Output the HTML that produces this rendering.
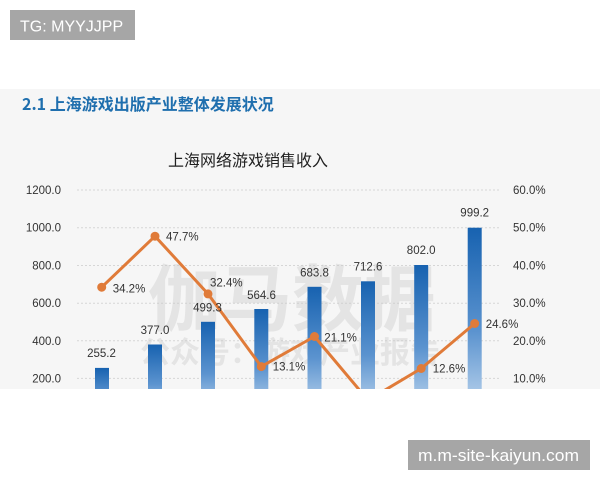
<!DOCTYPE html>
<html><head><meta charset="utf-8">
<style>
html,body{margin:0;padding:0;background:#fff;}
svg{display:block;}
text{font-family:"Liberation Sans","Noto Sans CJK SC",sans-serif;}
.cjk{font-family:"Noto Sans CJK SC","WenQuanYi Zen Hei",sans-serif;}
.ax{font-size:11.5px;fill:#333;}
</style></head>
<body>
<svg width="600" height="480" viewBox="0 0 600 480" xmlns="http://www.w3.org/2000/svg">
<defs>
<linearGradient id="bg" x1="0" y1="0" x2="0" y2="1">
<stop offset="0" stop-color="#1762b0"/>
<stop offset="0.55" stop-color="#5b93cf"/>
<stop offset="1" stop-color="#c6dbf0"/>
</linearGradient>
<clipPath id="cl"><rect x="0" y="89" width="600" height="300"/></clipPath>
</defs>
<rect x="0" y="0" width="600" height="480" fill="#fff"/>
<rect x="0" y="89" width="600" height="300" fill="#f6f6f6"/>

<text x="22" y="110" class="cjk" font-size="16" font-weight="bold" fill="#1f6fae">2.1  上海游戏出版产业整体发展状况</text>
<text x="248" y="166" class="cjk" font-size="16" fill="#222" text-anchor="middle">上海网络游戏销售收入</text>

<g clip-path="url(#cl)">
<g stroke="#d6d6d6" stroke-width="1" stroke-dasharray="2,2">
<line x1="77" y1="190" x2="500" y2="190"/>
<line x1="77" y1="227.7" x2="500" y2="227.7"/>
<line x1="77" y1="265.5" x2="500" y2="265.5"/>
<line x1="77" y1="303.2" x2="500" y2="303.2"/>
<line x1="77" y1="340.8" x2="500" y2="340.8"/>
<line x1="77" y1="378.4" x2="500" y2="378.4"/>
</g>
<text x="148" y="325" class="cjk" font-size="72" font-weight="bold" fill="#c8c8c8" fill-opacity="0.38">伽马数据</text>
<text x="140" y="363" class="cjk" font-size="30" font-weight="bold" fill="#c8c8c8" fill-opacity="0.38">公众号：游戏产业报告</text>
<g fill="url(#bg)">
<rect x="95" y="367.9" width="14" height="48.1"/>
<rect x="148" y="344.5" width="14" height="71.5"/>
<rect x="201" y="321.8" width="14" height="94.2"/>
<rect x="254.3" y="309" width="14" height="107"/>
<rect x="307.5" y="286.8" width="14" height="129.2"/>
<rect x="361" y="281.3" width="14" height="134.7"/>
<rect x="414.2" y="265" width="14" height="151"/>
<rect x="467.7" y="227.7" width="14" height="188.3"/>
</g>
<polyline fill="none" stroke="#e07b39" stroke-width="3" stroke-linejoin="round" points="101.7,287.2 155,236.2 208,293.9 261.3,366.6 314.5,336.5 368,400.2 421.2,368.5 474.7,323.5"/>
<g fill="#e07b39">
<circle cx="101.7" cy="287.2" r="4.5"/>
<circle cx="155" cy="236.2" r="4.5"/>
<circle cx="208" cy="293.9" r="4.5"/>
<circle cx="261.3" cy="366.6" r="4.5"/>
<circle cx="314.5" cy="336.5" r="4.5"/>
<circle cx="368" cy="400.2" r="4.5"/>
<circle cx="421.2" cy="368.5" r="4.5"/>
<circle cx="474.7" cy="323.5" r="4.5"/>
</g>
<g class="ax" text-anchor="middle">
<text x="101.5" y="357">255.2</text>
<text x="155" y="334">377.0</text>
<text x="207.5" y="311.3">499.3</text>
<text x="261.5" y="299">564.6</text>
<text x="314.5" y="276.3">683.8</text>
<text x="368" y="270.7">712.6</text>
<text x="421.2" y="254">802.0</text>
<text x="474.7" y="216.7">999.2</text>
</g>
<g class="ax">
<text x="112.7" y="292.3">34.2%</text>
<text x="166" y="240.7">47.7%</text>
<text x="210" y="286.7">32.4%</text>
<text x="272.7" y="370.7">13.1%</text>
<text x="324.3" y="341.3">21.1%</text>
<text x="432.7" y="372.3">12.6%</text>
<text x="485.7" y="328">24.6%</text>
</g>
<g class="ax" text-anchor="end">
<text x="61" y="194">1200.0</text>
<text x="61" y="231.7">1000.0</text>
<text x="61" y="269.5">800.0</text>
<text x="61" y="307.2">600.0</text>
<text x="61" y="344.8">400.0</text>
<text x="61" y="382.4">200.0</text>
</g>
<g class="ax">
<text x="513" y="194">60.0%</text>
<text x="513" y="231.7">50.0%</text>
<text x="513" y="269.5">40.0%</text>
<text x="513" y="307.2">30.0%</text>
<text x="513" y="344.8">20.0%</text>
<text x="513" y="382.4">10.0%</text>
</g>
</g>

<rect x="10" y="10" width="125" height="30" fill="#a6a6a6"/>
<text x="20" y="31.5" font-size="16" fill="#fff">TG: MYYJJPP</text>
<rect x="408" y="440" width="182" height="30" fill="#a6a6a6"/>
<text x="418" y="461" font-size="17" fill="#fff" textLength="161" lengthAdjust="spacingAndGlyphs">m.m-site-kaiyun.com</text>
</svg>
</body></html>
